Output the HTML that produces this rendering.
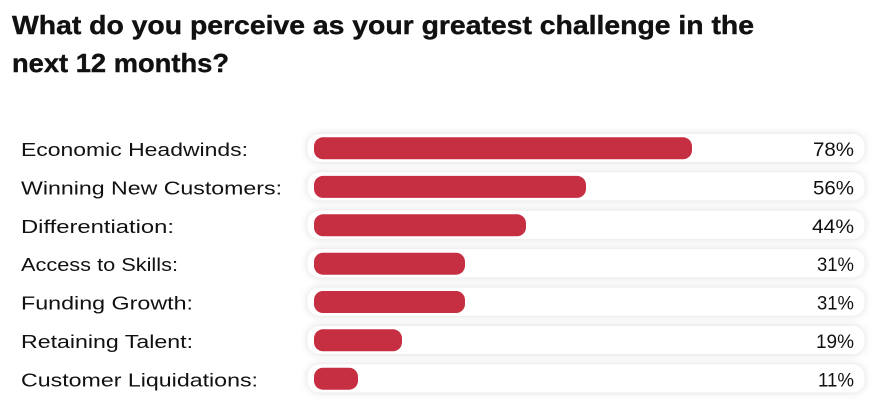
<!DOCTYPE html>
<html><head><meta charset="utf-8"><style>
html,body{margin:0;padding:0;background:#fff;}
svg{display:block;}
text{font-family:"Liberation Sans",sans-serif;fill:#111;}
</style></head><body>
<svg width="886" height="413" viewBox="0 0 886 413" xmlns="http://www.w3.org/2000/svg">
<defs>
<filter id="sh" x="-5%" y="-60%" width="110%" height="220%">
<feDropShadow dx="0" dy="0" stdDeviation="4" flood-color="#000" flood-opacity="0.14"/>
</filter>
</defs>
<text x="12" y="34" font-size="26" font-weight="bold" textLength="742" lengthAdjust="spacingAndGlyphs" stroke="#111" stroke-width="0.4">What do you perceive as your greatest challenge in the</text>
<text x="12" y="72" font-size="26" font-weight="bold" textLength="217" lengthAdjust="spacingAndGlyphs" stroke="#111" stroke-width="0.4">next 12 months?</text>

<g filter="url(#sh)" fill="#fff">
<rect x="307.5" y="134" width="557" height="28" rx="12"/>
<rect x="307.5" y="172.4" width="557" height="28" rx="12"/>
<rect x="307.5" y="210.8" width="557" height="28" rx="12"/>
<rect x="307.5" y="249.2" width="557" height="28" rx="12"/>
<rect x="307.5" y="287.6" width="557" height="28" rx="12"/>
<rect x="307.5" y="326" width="557" height="28" rx="12"/>
<rect x="307.5" y="364.4" width="557" height="28" rx="12"/>
</g>
<g fill="#c62e41">
<rect x="314" y="137.3" width="378" height="22" rx="9"/>
<rect x="314" y="175.9" width="272" height="22" rx="9"/>
<rect x="314" y="214.3" width="212" height="22" rx="9"/>
<rect x="314" y="252.7" width="151" height="22" rx="9"/>
<rect x="314" y="291" width="151" height="22" rx="9"/>
<rect x="314" y="329.3" width="88" height="22" rx="9"/>
<rect x="314" y="367.7" width="44" height="22" rx="9"/>
</g>

<g font-size="18">
<text x="21" y="156" textLength="227" lengthAdjust="spacingAndGlyphs">Economic Headwinds:</text>
<text x="21" y="194.4" textLength="261" lengthAdjust="spacingAndGlyphs">Winning New Customers:</text>
<text x="21" y="232.8" textLength="153" lengthAdjust="spacingAndGlyphs">Differentiation:</text>
<text x="21" y="271.2" textLength="157" lengthAdjust="spacingAndGlyphs">Access to Skills:</text>
<text x="21" y="309.6" textLength="172" lengthAdjust="spacingAndGlyphs">Funding Growth:</text>
<text x="21" y="348" textLength="172" lengthAdjust="spacingAndGlyphs">Retaining Talent:</text>
<text x="21" y="386.4" textLength="237" lengthAdjust="spacingAndGlyphs">Customer Liquidations:</text>
</g>
<g font-size="19">
<text x="813" y="156" textLength="41" lengthAdjust="spacingAndGlyphs">78%</text>
<text x="813" y="194.4" textLength="41" lengthAdjust="spacingAndGlyphs">56%</text>
<text x="812" y="232.8" textLength="42" lengthAdjust="spacingAndGlyphs">44%</text>
<text x="817" y="271.2" textLength="37" lengthAdjust="spacingAndGlyphs">31%</text>
<text x="817" y="309.6" textLength="37" lengthAdjust="spacingAndGlyphs">31%</text>
<text x="816" y="348" textLength="38" lengthAdjust="spacingAndGlyphs">19%</text>
<text x="818" y="386.4" textLength="36" lengthAdjust="spacingAndGlyphs">11%</text>
</g>
</svg>
</body></html>
